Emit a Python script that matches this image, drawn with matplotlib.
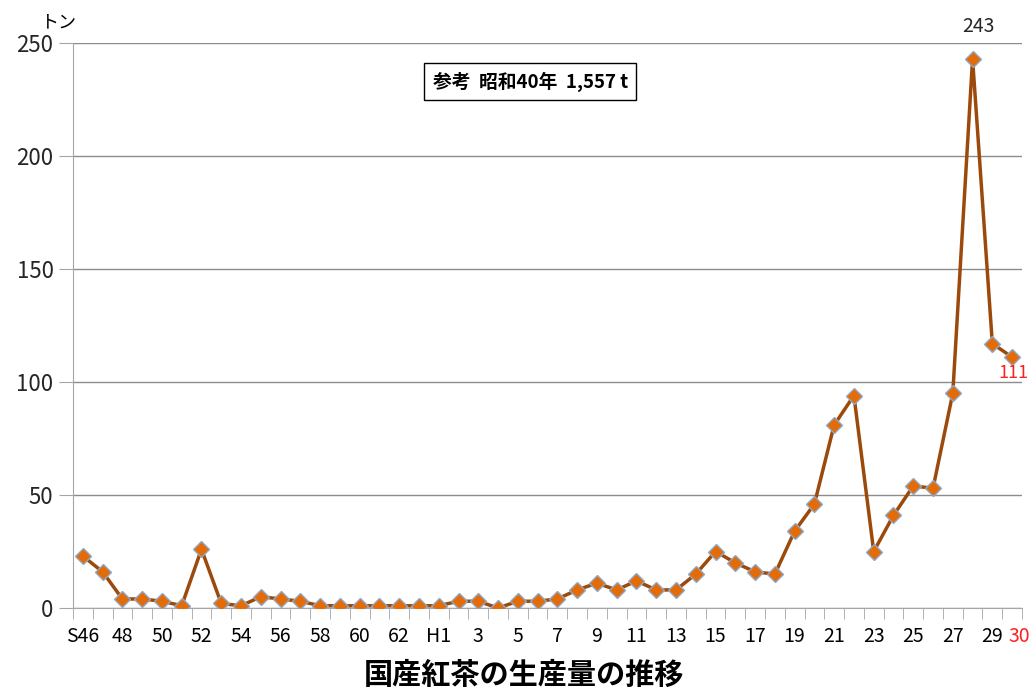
import matplotlib
matplotlib.use('Agg')
import matplotlib.pyplot as plt
from matplotlib.ticker import FixedLocator, NullFormatter

plt.rcParams['font.family'] = ['Noto Sans CJK JP', 'DejaVu Sans']

# 国産紅茶の生産量 (トン), S46 .. H30
x_labels = ['S46', '48', '50', '52', '54', '56', '58', '60', '62', 'H1',
            '3', '5', '7', '9', '11', '13', '15', '17', '19', '21', '23',
            '25', '27', '29', '30']
values = [23, 16, 4, 4, 3, 1, 26, 2, 1, 5, 4, 3, 1, 1, 1, 1, 1, 1,   # S46-S63
          1, 3, 3, 0, 3, 3, 4, 8, 11, 8, 12, 8, 8, 15, 25, 20, 16, 15,  # H1-H18
          34, 46, 81, 94, 25, 41, 54, 53, 95, 243, 117, 111]            # H19-H30
y_ticks = [0, 50, 100, 150, 200, 250]

n = len(values)
x = list(range(n))
label_pos = list(range(0, n - 1, 2))

fig = plt.figure(figsize=(10.32, 6.91), dpi=100)
ax = fig.add_axes([0.0707, 0.1201, 0.9196, 0.8177])

ax.plot(x, values, color='#9C4A0C', lw=2.5, marker='D', markersize=8,
        markerfacecolor='#E36C09', markeredgecolor='#8FA8C6', markeredgewidth=1,
        zorder=3)

ax.set_xlim(-0.5, n - 0.5)
ax.set_ylim(0, 250)
ax.set_yticks(y_ticks)
ax.grid(axis='y', color='#8C8C8C', lw=1)
ax.set_axisbelow(True)

# every other year labelled; the last year (30) is added in red below
ax.set_xticks(label_pos)
ax.set_xticklabels(x_labels[:-1])
ax.xaxis.set_minor_locator(FixedLocator([i - 0.5 for i in range(n + 1)]))
ax.xaxis.set_minor_formatter(NullFormatter())
ax.tick_params(axis='x', which='major', length=0, pad=13, labelsize=14)
ax.tick_params(axis='x', which='minor', length=8, color='#A6A6A6')
ax.tick_params(axis='y', length=10, color='#A6A6A6', labelsize=16,
               labelcolor='#262626', pad=4)
ax.annotate(x_labels[-1], (n - 1, 0), xycoords=('data', 'axes fraction'),
            xytext=(5, -13), textcoords='offset points', ha='center', va='top',
            fontsize=14, color='#FF2020')

for side in ['top', 'right']:
    ax.spines[side].set_visible(False)
ax.spines['left'].set_color('#A6A6A6')
ax.spines['bottom'].set_color('#A6A6A6')

ax.annotate('243', (45, values[45]), xytext=(4, 16), textcoords='offset points',
            ha='center', va='bottom', fontsize=14, color='#262626')
ax.annotate('111', (47, values[47]), xytext=(1, -5), textcoords='offset points',
            ha='center', va='top', fontsize=13, color='#FF2020')

ax.text(0.482, 0.932, '参考  昭和40年  1,557 t', transform=ax.transAxes,
        ha='center', va='center', fontsize=13.5, fontweight='bold',
        bbox=dict(boxstyle='square,pad=0.45', fc='white', ec='black', lw=1))

fig.text(0.056, 0.968, 'トン', ha='center', va='center', fontsize=13)
fig.text(0.508, 0.024, '国産紅茶の生産量の推移', ha='center', va='center',
         fontsize=21, fontweight='bold')

fig.savefig('out.png', dpi=100)
